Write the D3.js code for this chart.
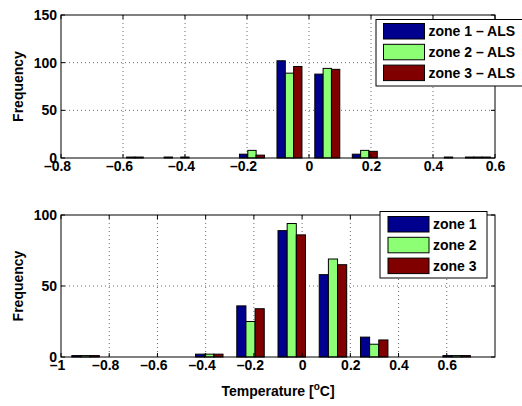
<!DOCTYPE html>
<html><head><meta charset="utf-8">
<script src="https://cdn.jsdelivr.net/npm/d3@7/dist/d3.min.js"></script>
<style>
body{margin:0;background:#fff;}
svg text{font-family:"Liberation Sans",Arial,Helvetica,sans-serif;font-weight:bold;font-size:14px;fill:#000;}
</style></head>
<body>
<svg id="chart" width="522" height="406"></svg>
<script>
// ---- data ----
const seriesColors = ["#00008f", "#8cff74", "#800000"];

const topBins = [-0.791, -0.670, -0.548, -0.427, -0.305, -0.184, -0.063, 0.059, 0.180, 0.302, 0.423, 0.545];
const topZone1 = [0, 0, 1, 1, 0, 4, 102, 88, 4, 0, 0, 1];
const topZone2 = [0, 0, 1, 0, 0, 8, 89, 94, 8, 0, 0, 1];
const topZone3 = [0, 0, 0, 1, 0, 3, 96, 93, 7, 0, 1, 1];
const topNames = ["zone 1 \u2013 ALS", "zone 2 \u2013 ALS", "zone 3 \u2013 ALS"];
const topXTicks = [-0.8, -0.6, -0.4, -0.2, 0, 0.2, 0.4, 0.6];
const topYTicks = [0, 50, 100, 150];

const botBins = [-0.898, -0.727, -0.556, -0.385, -0.214, -0.043, 0.128, 0.299, 0.470, 0.641];
const botZone1 = [1, 0, 0, 2, 36, 89, 58, 14, 0, 1];
const botZone2 = [1, 0, 0, 2, 25, 94, 69, 9, 0, 1];
const botZone3 = [1, 0, 0, 2, 34, 86, 65, 12, 0, 1];
const botNames = ["zone 1", "zone 2", "zone 3"];
const botXTicks = [-1, -0.8, -0.6, -0.4, -0.2, 0, 0.2, 0.4, 0.6];
const botYTicks = [0, 50, 100];

const xLabel = "Temperature";
const yLabel = "Frequency";

// ---- drawing ----
const svg = d3.select("#chart");
const fmt = v => (v < 0 ? "\u2013" : "") + d3.format("")(Math.abs(v)).replace(/^0\./, "0.");

function panel(cfg) {
  const x = d3.scaleLinear().domain(cfg.xDomain).range([cfg.left, cfg.right]);
  const y = d3.scaleLinear().domain(cfg.yDomain).range([cfg.bottom, cfg.top]);
  const g = svg.append("g");

  // grid
  g.selectAll(".gx").data(cfg.xTicks.filter(t => x(t) > cfg.left + 1 && x(t) < cfg.right - 1)).join("line")
    .attr("x1", d => x(d)).attr("x2", d => x(d)).attr("y1", cfg.top).attr("y2", cfg.bottom)
    .attr("stroke", "#6a6a6a").attr("stroke-width", 1).attr("stroke-dasharray", "1,3");
  g.selectAll(".gy").data(cfg.yTicks.filter(t => y(t) > cfg.top + 1 && y(t) < cfg.bottom - 1)).join("line")
    .attr("y1", d => y(d)).attr("y2", d => y(d)).attr("x1", cfg.left).attr("x2", cfg.right)
    .attr("stroke", "#6a6a6a").attr("stroke-width", 1).attr("stroke-dasharray", "1,3");

  // bars
  const binW = cfg.bins[1] - cfg.bins[0];
  const bw = binW * 0.222;
  cfg.series.forEach((vals, si) => {
    const data = cfg.bins.map((b, i) => ({b, v: vals[i]})).filter(d => d.v > 0);
    g.selectAll(".bar" + si).data(data).join("rect")
      .attr("x", d => x(d.b + (si - 1.5) * bw))
      .attr("width", d => x(d.b + (si - 0.5) * bw) - x(d.b + (si - 1.5) * bw))
      .attr("y", d => y(d.v))
      .attr("height", d => y(0) - y(d.v))
      .attr("fill", seriesColors[si]).attr("stroke", "#000").attr("stroke-width", 1);
  });

  // frame
  g.append("rect").attr("x", cfg.left).attr("y", cfg.top)
    .attr("width", cfg.right - cfg.left).attr("height", cfg.bottom - cfg.top)
    .attr("fill", "none").attr("stroke", "#000").attr("stroke-width", 1);

  // inward ticks
  const tl = 4;
  cfg.xTicks.forEach(t => {
    g.append("line").attr("x1", x(t)).attr("x2", x(t)).attr("y1", cfg.bottom).attr("y2", cfg.bottom - tl).attr("stroke", "#000");
    g.append("line").attr("x1", x(t)).attr("x2", x(t)).attr("y1", cfg.top).attr("y2", cfg.top + tl).attr("stroke", "#000");
  });
  cfg.yTicks.forEach(t => {
    g.append("line").attr("y1", y(t)).attr("y2", y(t)).attr("x1", cfg.left).attr("x2", cfg.left + tl).attr("stroke", "#000");
    g.append("line").attr("y1", y(t)).attr("y2", y(t)).attr("x1", cfg.right).attr("x2", cfg.right - tl).attr("stroke", "#000");
  });

  // tick labels via d3 axes
  const ax = g.append("g").attr("transform", `translate(0,${cfg.bottom})`)
    .call(d3.axisBottom(x).tickValues(cfg.xTicks).tickSize(0).tickPadding(3).tickFormat(fmt));
  ax.select(".domain").remove();
  ax.selectAll("text").attr("dx", d => d < 0 ? -4 : 0).style("font-size", "14px").style("font-family", null);
  const ay = g.append("g").attr("transform", `translate(${cfg.left},0)`)
    .call(d3.axisLeft(y).tickValues(cfg.yTicks).tickSize(0).tickPadding(4).tickFormat(d3.format("d")));
  ay.select(".domain").remove();
  ay.selectAll("text").style("font-size", "14px").style("font-family", null);

  // y label
  g.append("text").attr("transform", `translate(23,${(cfg.top + cfg.bottom) / 2}) rotate(-90)`)
    .attr("text-anchor", "middle").text(yLabel);

  // legend
  const L = cfg.legend;
  const lg = g.append("g");
  lg.append("rect").attr("x", L.x).attr("y", L.y).attr("width", L.w).attr("height", L.h)
    .attr("fill", "#fff").attr("stroke", "#000").attr("stroke-width", 1);
  cfg.names.forEach((n, i) => {
    const yy = L.y + L.first + i * L.step;
    lg.append("rect").attr("x", L.x + L.sx).attr("y", yy).attr("width", 41).attr("height", 15.5)
      .attr("fill", seriesColors[i]).attr("stroke", "#000").attr("stroke-width", 1);
    lg.append("text").attr("x", L.x + L.sx + 45).attr("y", yy + 7.75).attr("dy", "0.36em").text(n);
  });
  return {x, y};
}

panel({left: 61, right: 495, top: 15, bottom: 158,
  xDomain: [-0.8, 0.6], yDomain: [0, 150], xTicks: topXTicks, yTicks: topYTicks,
  bins: topBins, series: [topZone1, topZone2, topZone3], names: topNames,
  legend: {x: 376, y: 19.5, w: 160, h: 66.5, sx: 7.5, first: 4, step: 20.8}});

panel({left: 61, right: 495, top: 215, bottom: 357,
  xDomain: [-1, 0.8], yDomain: [0, 100], xTicks: botXTicks, yTicks: botYTicks,
  bins: botBins, series: [botZone1, botZone2, botZone3], names: botNames,
  legend: {x: 380, y: 211.5, w: 107, h: 66.5, sx: 8, first: 5, step: 20.8}});

// x label with superscript
const xl = svg.append("text").attr("x", 278).attr("y", 396).attr("text-anchor", "middle");
xl.append("tspan").text(xLabel + " [");
xl.append("tspan").attr("dy", -6).style("font-size", "10px").text("o");
xl.append("tspan").attr("dy", 6).text("C]");
</script>
</body></html>
